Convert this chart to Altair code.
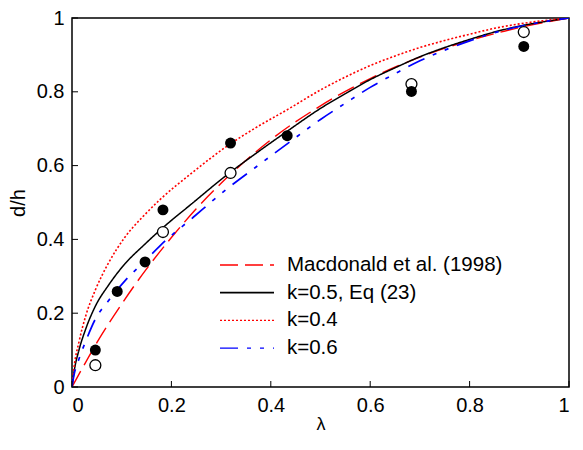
import altair as alt
import pandas as pd

FONT = "Liberation Sans"

# ---- curves ----
mac_lam = [0.0, 0.02, 0.05, 0.1, 0.15, 0.2, 0.25, 0.3, 0.4, 0.5, 0.6, 0.7, 0.8, 0.9, 1.0]
mac_d = [0.0, 0.049, 0.12, 0.225, 0.32, 0.405, 0.483, 0.552, 0.67, 0.762, 0.836, 0.894, 0.939, 0.974, 1.0]

k05_lam = [0.0, 0.004, 0.014, 0.027, 0.047, 0.073, 0.106, 0.145, 0.178, 0.244, 0.31, 0.369,
           0.435, 0.5, 0.55, 0.6, 0.65, 0.7, 0.75, 0.8, 0.85, 0.9, 0.95, 1.0]
k05_d = [0.0, 0.04, 0.10, 0.155, 0.219, 0.275, 0.333, 0.385, 0.426, 0.500, 0.573, 0.632,
         0.695, 0.755, 0.795, 0.833, 0.865, 0.895, 0.920, 0.942, 0.962, 0.978, 0.99, 1.0]

k04_lam = [0.0, 0.004, 0.014, 0.027, 0.047, 0.073, 0.106, 0.145, 0.178, 0.244, 0.31, 0.369,
           0.435, 0.5, 0.55, 0.6, 0.65, 0.7, 0.75, 0.8, 0.85, 0.9, 0.95, 1.0]
k04_d = [0.0, 0.052, 0.122, 0.19, 0.263, 0.335, 0.405, 0.465, 0.509, 0.583, 0.651, 0.702,
         0.753, 0.805, 0.84, 0.871, 0.897, 0.92, 0.939, 0.956, 0.972, 0.984, 0.993, 1.0]

k06_lam = [0.0, 0.004, 0.014, 0.027, 0.047, 0.073, 0.106, 0.145, 0.178, 0.244, 0.31, 0.369,
           0.435, 0.5, 0.55, 0.6, 0.65, 0.7, 0.75, 0.8, 0.85, 0.9, 0.95, 1.0]
k06_d = [0.0, 0.032, 0.076, 0.122, 0.184, 0.233, 0.287, 0.339, 0.384, 0.460, 0.535, 0.595,
         0.661, 0.725, 0.769, 0.812, 0.849, 0.884, 0.913, 0.938, 0.960, 0.977, 0.99, 1.0]

series_names = ["Macdonald et al. (1998)", "k=0.5, Eq (23)", "k=0.4", "k=0.6"]
series_colors = ["#ff0000", "#000000", "#ff0000", "#0000ff"]
series_dash = [[18, 7], [1, 0], [2, 2], [18, 9, 4, 9, 4, 9]]
series_width = [1.4, 1.7, 1.4, 1.4]

# ---- measured points ----
filled_lam = [0.047, 0.091, 0.147, 0.183, 0.319, 0.433, 0.683, 0.909]
filled_d = [0.10, 0.259, 0.339, 0.48, 0.661, 0.681, 0.801, 0.923]
open_lam = [0.047, 0.183, 0.319, 0.683, 0.909]
open_d = [0.059, 0.42, 0.58, 0.821, 0.962]

x_ticks = [0, 0.2, 0.4, 0.6, 0.8, 1.0]
y_ticks = [0, 0.2, 0.4, 0.6, 0.8, 1.0]

W, H = 497, 369

rows = []
for name, lams, ds in zip(series_names,
                          [mac_lam, k05_lam, k04_lam, k06_lam],
                          [mac_d, k05_d, k04_d, k06_d]):
    for i, (l, d) in enumerate(zip(lams, ds)):
        rows.append({"series": name, "lam": l, "d": d, "i": i})
lines_df = pd.DataFrame(rows)

filled_df = pd.DataFrame({"lam": filled_lam, "d": filled_d})
open_df = pd.DataFrame({"lam": open_lam, "d": open_d})
xt_df = pd.DataFrame({"v": x_ticks})
yt_df = pd.DataFrame({"v": y_ticks})
legend_df = pd.DataFrame({"series": series_names})

xscale = alt.Scale(domain=[0, 1], nice=False, zero=False)
yscale = alt.Scale(domain=[0, 1], nice=False, zero=False)

xaxis = alt.Axis(values=x_ticks, title="λ", tickSize=0, domain=False, grid=False,
                 labelPadding=8, titlePadding=0, titleFontSize=18, format="~g")
yaxis = alt.Axis(values=y_ticks, title="d/h", tickSize=0, domain=False, grid=False,
                 labelPadding=8, titlePadding=8, format="~g")

lines = alt.Chart(lines_df).mark_line(interpolate="monotone", clip=True).encode(
    x=alt.X("lam:Q", scale=xscale, axis=xaxis),
    y=alt.Y("d:Q", scale=yscale, axis=yaxis),
    order="i:Q",
    color=alt.Color("series:N", scale=alt.Scale(domain=series_names, range=series_colors),
                    legend=None),
    strokeDash=alt.StrokeDash("series:N",
                              scale=alt.Scale(domain=series_names, range=series_dash),
                              legend=None),
    strokeWidth=alt.StrokeWidth("series:N",
                                scale=alt.Scale(domain=series_names, range=series_width),
                                legend=None),
)

open_pts = alt.Chart(open_df).mark_point(shape="circle", filled=False, size=120,
                                         color="black", strokeWidth=1.3, fill="white",
                                         opacity=1).encode(
    x=alt.X("lam:Q", scale=xscale), y=alt.Y("d:Q", scale=yscale))

filled_pts = alt.Chart(filled_df).mark_point(shape="circle", filled=True, size=120,
                                             color="black", opacity=1).encode(
    x=alt.X("lam:Q", scale=xscale), y=alt.Y("d:Q", scale=yscale))

xticks = alt.Chart(xt_df).mark_rule(color="black", strokeWidth=1).encode(
    x=alt.X("v:Q", scale=xscale), y=alt.value(H), y2=alt.value(H - 6))
yticks = alt.Chart(yt_df).mark_rule(color="black", strokeWidth=1).encode(
    y=alt.Y("v:Q", scale=yscale), x=alt.value(0), x2=alt.value(6))

# legend drawn inside the plot (placement is styling)
LEG_X0, LEG_X1, LEG_TX, LEG_Y0, LEG_DY = 148, 202, 215, 247, 27.7
legend_layers = []
for i, name in enumerate(series_names):
    sub = legend_df[legend_df["series"] == name]
    ypos = LEG_Y0 + LEG_DY * i
    legend_layers.append(
        alt.Chart(sub).mark_rule(color=series_colors[i], strokeDash=series_dash[i],
                                 strokeWidth=series_width[i]).encode(
            x=alt.value(LEG_X0), x2=alt.value(LEG_X1), y=alt.value(ypos)))
    legend_layers.append(
        alt.Chart(sub).mark_text(align="left", baseline="middle", font=FONT,
                                 fontSize=20.5, color="black").encode(
            x=alt.value(LEG_TX), y=alt.value(ypos), text="series:N"))

chart = alt.layer(lines, open_pts, filled_pts, xticks, yticks, *legend_layers).properties(
    width=W, height=H,
    autosize=alt.AutoSizeParams(type="none"),
    padding={"left": 64, "top": 10, "right": 6, "bottom": 46}
).configure_view(stroke="black", strokeWidth=1.5).configure_axis(
    labelFont=FONT, titleFont=FONT, labelFontSize=20, titleFontSize=20,
    labelColor="black", titleColor="black", titleFontWeight="normal"
)

chart.save("out.html", embed_options={"renderer": "svg", "actions": False})
